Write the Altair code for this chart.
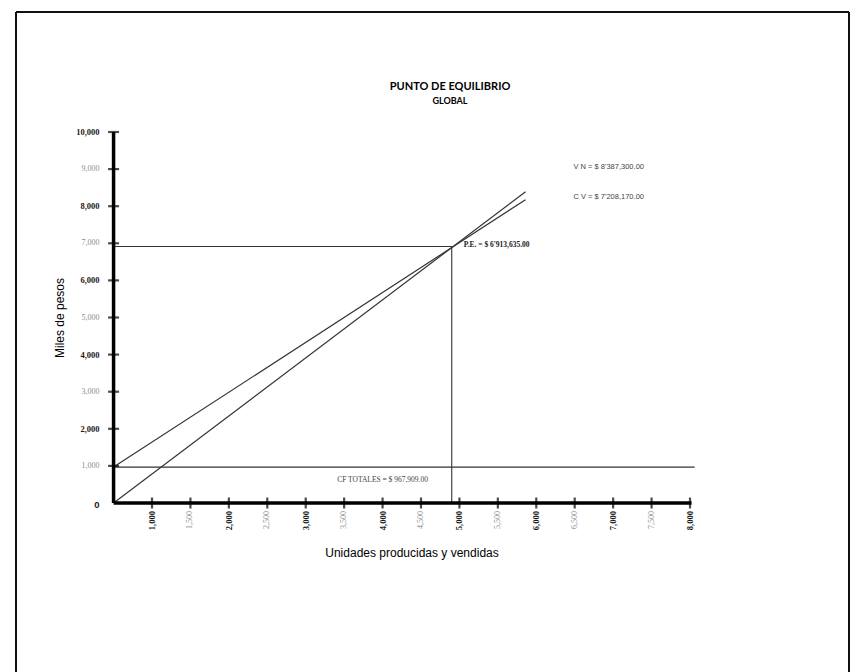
import altair as alt
import pandas as pd

# ---- tick values and their printed labels ----
x_ticks = [1000, 1500, 2000, 2500, 3000, 3500, 4000, 4500,
           5000, 5500, 6000, 6500, 7000, 7500, 8000]
x_labels = ["1,000", "1,500", "2,000", "2,500", "3,000", "3,500", "4,000", "4,500",
            "5,000", "5,500", "6,000", "6,500", "7,000", "7,500", "8,000"]
y_ticks = [0, 1000, 2000, 3000, 4000, 5000, 6000, 7000, 8000, 9000, 10000]
y_labels = ["0", "1,000", "2,000", "3,000", "4,000", "5,000",
            "6,000", "7,000", "8,000", "9,000", "10,000"]

# ---- series (miles de pesos vs unidades) ----
origin_units = 500
axis_end_units = 8000
axis_top_value = 10000

line_units = [500, 5860]
ventas_netas = [0, 8387.3]            # V N
costo_total = [967.909, 8176.079]     # CF + C V
cf_totales = 967.909
cf_end_units = 8060
pe_units = 4900
pe_value = 6913.635

# ---- layout (pixels on the 861 x 672 canvas) ----
W, H = 861, 672
x_px_1000, x_px_8000 = 152.0, 690.0
y_px_0, y_px_10000 = 503.0, 132.0

kx = (x_px_8000 - x_px_1000) / 7000.0
ky = (y_px_0 - y_px_10000) / 10000.0
x_dom = [1000 - x_px_1000 / kx, 1000 + (W - x_px_1000) / kx]
y_dom = [-(H - y_px_0) / ky, y_px_0 / ky]

X = lambda f: alt.X(f, type="quantitative",
                    scale=alt.Scale(domain=x_dom, nice=False, zero=False), axis=None)
Y = lambda f: alt.Y(f, type="quantitative",
                    scale=alt.Scale(domain=y_dom, nice=False, zero=False), axis=None)

INK = "#1a1a1a"
FAINT = "#8c8c8c"
SERIF = "Liberation Serif"
SANS = "Liberation Sans"

# outer frame (open at the bottom)
FR_L, FR_T, FR_R = 16, 12, 849
frame_df = pd.DataFrame({"side": ["top", "left", "right"]})
frame_top = alt.Chart(frame_df).transform_filter("datum.side == 'top'").mark_rule(
    color="#111111", strokeWidth=2).encode(
    x=alt.value(FR_L), x2=alt.value(FR_R), y=alt.value(FR_T))
frame_left = alt.Chart(frame_df).transform_filter("datum.side == 'left'").mark_rule(
    color="#111111", strokeWidth=2).encode(
    x=alt.value(FR_L), y=alt.value(FR_T), y2=alt.value(H + 2))
frame_right = alt.Chart(frame_df).transform_filter("datum.side == 'right'").mark_rule(
    color="#111111", strokeWidth=2).encode(
    x=alt.value(FR_R), y=alt.value(FR_T), y2=alt.value(H + 2))

# axes drawn as thick rules from the origin
axes_df = pd.DataFrame({
    "u": [origin_units, origin_units], "v": [0, 0],
    "u2": [axis_end_units + 20, origin_units], "v2": [0, axis_top_value],
})
axes = alt.Chart(axes_df).mark_rule(color="black", strokeWidth=3.5).encode(
    x=X("u"), y=Y("v"), x2="u2", y2="v2")

xt_df = pd.DataFrame({"u": x_ticks, "lab": x_labels, "v": [0] * len(x_ticks)})
yt_df = pd.DataFrame({"v": y_ticks, "lab": y_labels, "u": [origin_units] * len(y_ticks)})

x_tickmarks = alt.Chart(xt_df).mark_tick(orient="vertical", size=11, thickness=2.2,
                                         color="black").encode(x=X("u"), y=Y("v"))
y_tickmarks = alt.Chart(yt_df).transform_filter("datum.v > 0").mark_tick(
    orient="horizontal", size=11, thickness=2.2, color="black").encode(x=X("u"), y=Y("v"))

# whole thousands print dark and bold, half steps print faint
x_major = alt.Chart(xt_df).transform_filter("datum.u % 1000 == 0").mark_text(
    angle=270, align="right", baseline="middle", dx=-8,
    font=SERIF, fontWeight="bold", fontSize=8.5, color=INK
).encode(x=X("u"), y=Y("v"), text="lab:N")
x_minor = alt.Chart(xt_df).transform_filter("datum.u % 1000 != 0").mark_text(
    angle=270, align="right", baseline="middle", dx=-8,
    font=SERIF, fontSize=8, color=FAINT
).encode(x=X("u"), y=Y("v"), text="lab:N")

y_major = alt.Chart(yt_df).transform_filter("datum.v > 0 && datum.v % 2000 == 0").mark_text(
    align="right", baseline="middle", dx=-14,
    font=SERIF, fontWeight="bold", fontSize=8.5, color=INK
).encode(x=X("u"), y=Y("v"), text="lab:N")
y_minor = alt.Chart(yt_df).transform_filter("datum.v % 2000 != 0").mark_text(
    align="right", baseline="middle", dx=-14,
    font=SERIF, fontSize=8, color=FAINT
).encode(x=X("u"), y=Y("v"), text="lab:N")

zero_label = alt.Chart(yt_df).transform_filter("datum.v == 0").mark_text(
    align="right", baseline="middle", dx=-14, dy=2,
    font=SANS, fontWeight="bold", fontSize=9.5, color=INK
).encode(x=X("u"), y=Y("v"), text="lab:N")

# sales and total cost lines
lines_df = pd.DataFrame({
    "u": line_units + line_units,
    "v": ventas_netas + costo_total,
    "serie": ["V N"] * 2 + ["C T"] * 2,
})
lines = alt.Chart(lines_df).mark_line(color="#333333", strokeWidth=1.2).encode(
    x=X("u"), y=Y("v"), detail="serie:N")

# fixed cost and break-even guides
guides_df = pd.DataFrame({
    "u": [origin_units, origin_units, pe_units],
    "v": [cf_totales, pe_value, 0],
    "u2": [cf_end_units, pe_units, pe_units],
    "v2": [cf_totales, pe_value, pe_value],
})
guides = alt.Chart(guides_df).mark_rule(color="#333333", strokeWidth=1.1).encode(
    x=X("u"), y=Y("v"), x2="u2", y2="v2")

# annotations
ann_df = pd.DataFrame({
    "u": [line_units[1], line_units[1], pe_units, 4000],
    "v": [ventas_netas[1], costo_total[1], pe_value, cf_totales],
    "t": ["V N  = $ 8'387,300.00", "C V  = $ 7'208,170.00",
          "P.E. = $ 6'913,635.00", "CF TOTALES = $ 967,909.00"],
    "k": ["vn", "cv", "pe", "cf"],
})
ann_vn = alt.Chart(ann_df).transform_filter("datum.k == 'vn'").mark_text(
    align="left", baseline="middle", dx=48, dy=-25, font=SANS, fontSize=7.5, color="#444444"
).encode(x=X("u"), y=Y("v"), text="t:N")
ann_cv = alt.Chart(ann_df).transform_filter("datum.k == 'cv'").mark_text(
    align="left", baseline="middle", dx=48, dy=-3, font=SANS, fontSize=7.5, color="#444444"
).encode(x=X("u"), y=Y("v"), text="t:N")
ann_pe = alt.Chart(ann_df).transform_filter("datum.k == 'pe'").mark_text(
    align="left", baseline="middle", dx=12, dy=-2, font=SERIF, fontWeight="bold",
    fontSize=7.5, color=INK
).encode(x=X("u"), y=Y("v"), text="t:N")
ann_cf = alt.Chart(ann_df).transform_filter("datum.k == 'cf'").mark_text(
    align="center", baseline="middle", dy=13, font=SERIF, fontSize=7.5, color="#444444"
).encode(x=X("u"), y=Y("v"), text="t:N")

# titles inside the frame
titles_df = pd.DataFrame({
    "t": ["PUNTO DE EQUILIBRIO", "GLOBAL"],
    "k": ["main", "sub"],
})
title_main = alt.Chart(titles_df).transform_filter("datum.k == 'main'").mark_text(
    font="Lato", fontWeight="bold", fontSize=11, color="black", align="center",
    baseline="middle"
).encode(x=alt.value(450), y=alt.value(87), text="t:N")
title_sub = alt.Chart(titles_df).transform_filter("datum.k == 'sub'").mark_text(
    font="Lato", fontWeight="bold", fontSize=9, color="black", align="center",
    baseline="middle"
).encode(x=alt.value(450), y=alt.value(101), text="t:N")

axis_titles_df = pd.DataFrame({"t": ["Unidades producidas y vendidas", "Miles de pesos"],
                               "k": ["x", "y"]})
x_title = alt.Chart(axis_titles_df).transform_filter("datum.k == 'x'").mark_text(
    font=SANS, fontSize=12, color="black", align="center", baseline="middle"
).encode(x=alt.value(412), y=alt.value(553), text="t:N")
y_title = alt.Chart(axis_titles_df).transform_filter("datum.k == 'y'").mark_text(
    font=SANS, fontSize=12, color="black", align="center", baseline="middle", angle=270
).encode(x=alt.value(60), y=alt.value(318), text="t:N")

chart = alt.layer(
    frame_top, frame_left, frame_right,
    guides, lines, axes, x_tickmarks, y_tickmarks,
    x_major, x_minor, y_major, y_minor, zero_label,
    ann_vn, ann_cv, ann_pe, ann_cf,
    title_main, title_sub, x_title, y_title,
).properties(
    width=W, height=H, padding=0, autosize=alt.AutoSizeParams(type="none"),
    background="white",
).configure_view(stroke=None, fill="white")

chart.save("out.html", embed_options={"renderer": "svg", "actions": False})
